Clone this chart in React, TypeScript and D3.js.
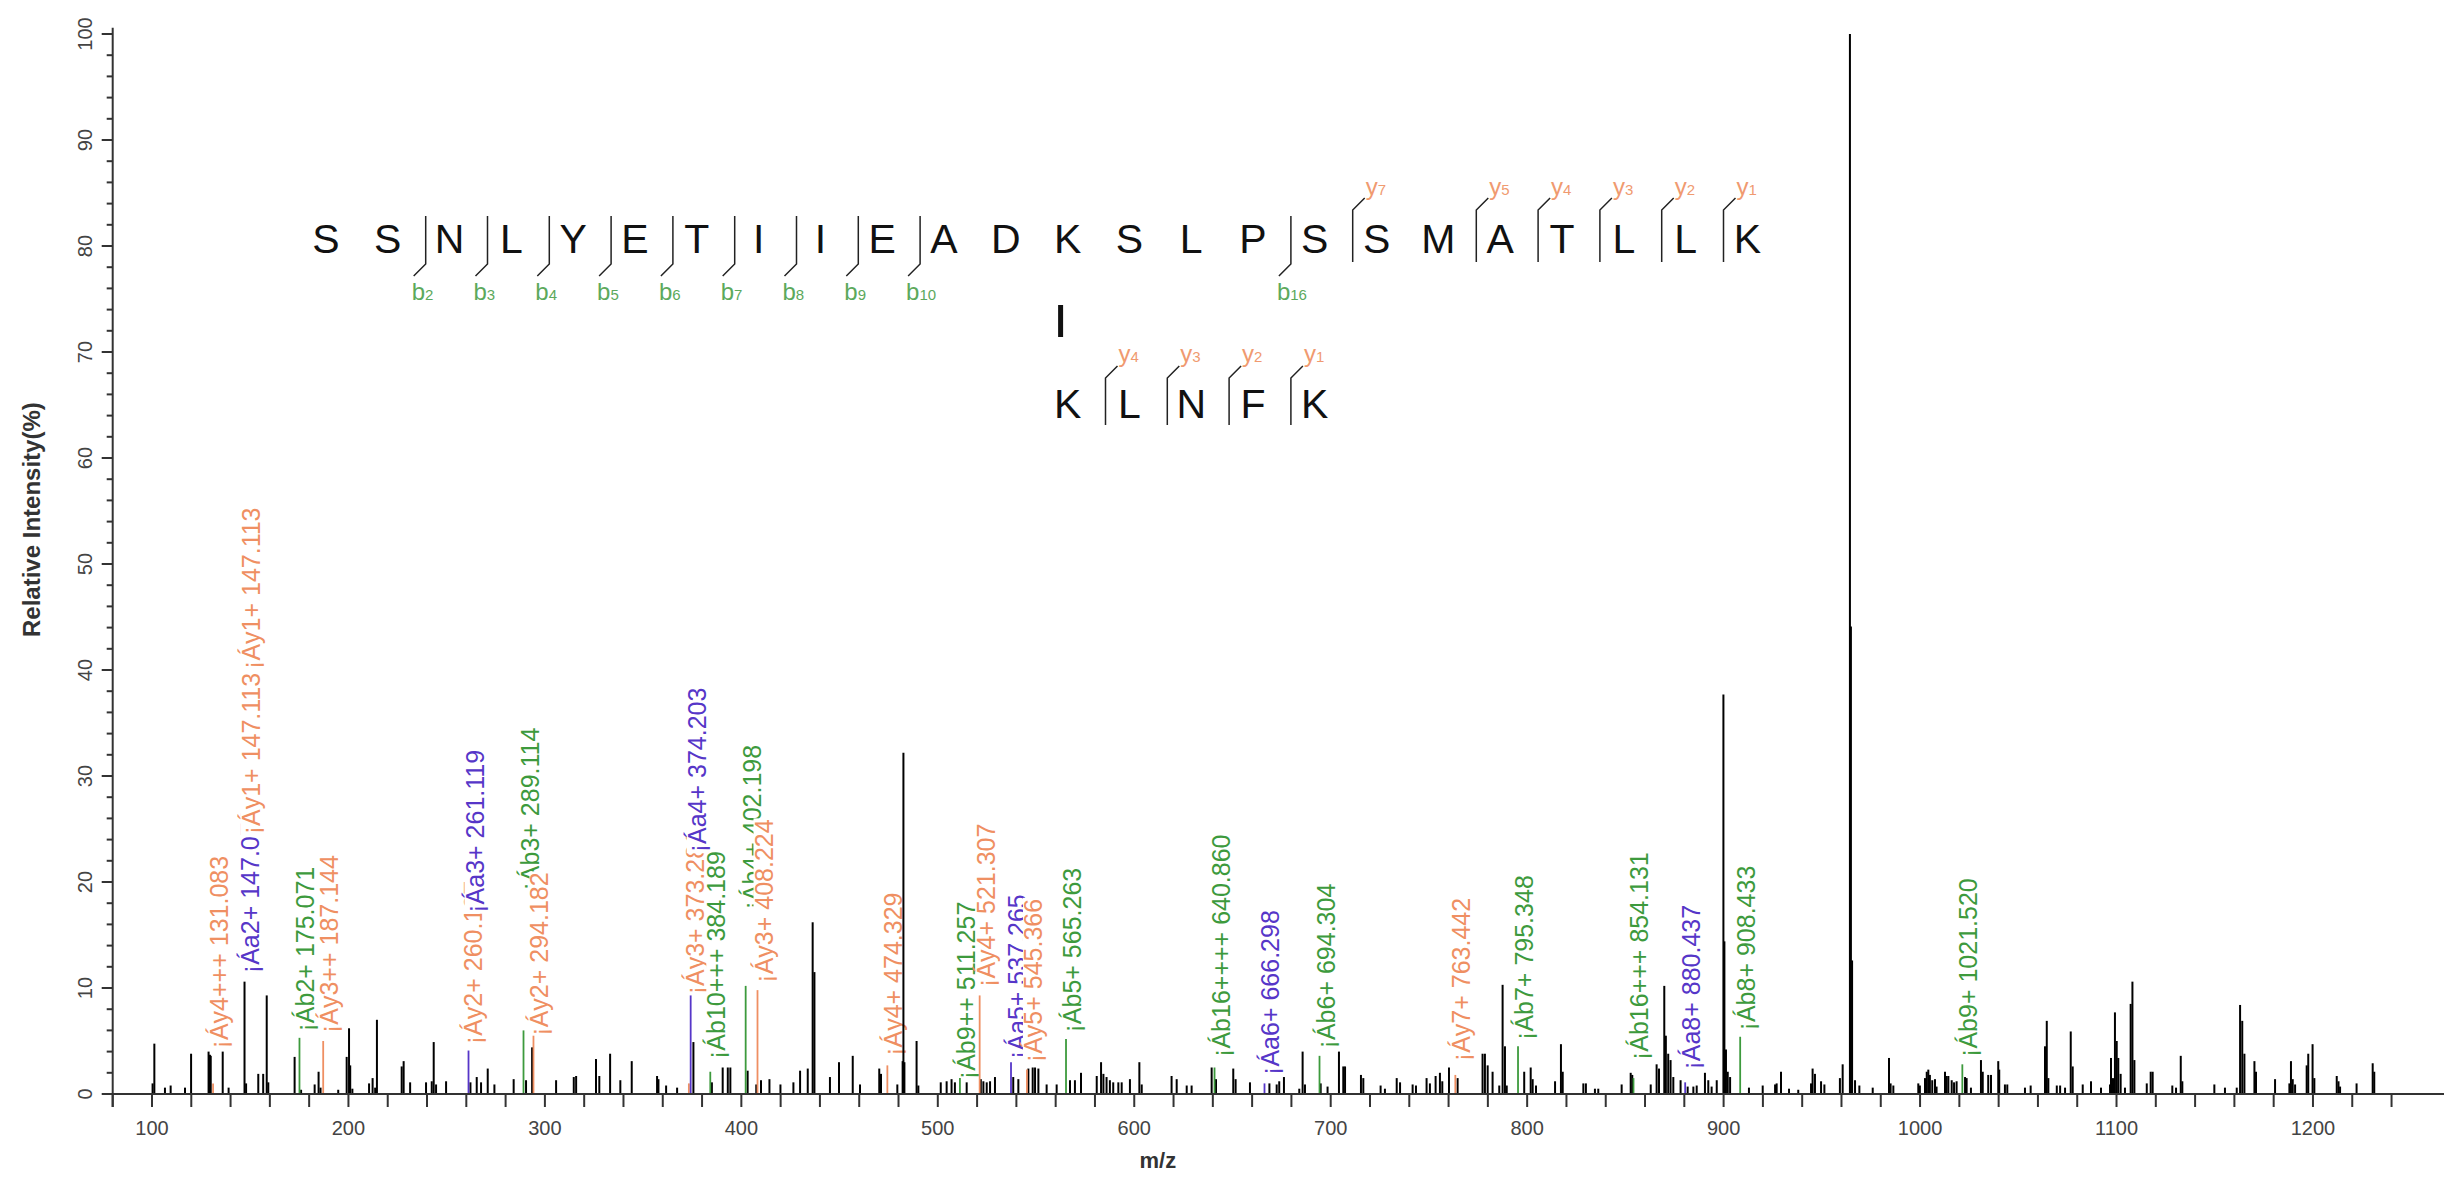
import React, { useMemo } from "react";
import * as d3 from "d3";

const W = 2444;
const H = 1185;

// ---- peptide sequences ----
const seqAlpha = "SSNLYETIIEADKSLPSSMATLLK".split("");
const seqBeta = "KLNFK".split("");
const bIons = [2, 3, 4, 5, 6, 7, 8, 9, 10, 16];
const yIonsAlpha = [7, 5, 4, 3, 2, 1];
const yIonsBeta = [4, 3, 2, 1];
const crossLinkSite = 12;

// ---- axis ----
const xDomain = [80, 1266.7];
const yDomain = [0, 100];
const xTickStep = 20;
const xLabelStep = 100;
const xTickMax = 1240;

// ---- unannotated peaks [m/z, relative intensity] ----
const peaks: [number, number][] = [
  [100.3, 1.0], [101.2, 4.75], [106.6, 0.6], [109.5, 0.8], [116.8, 0.6], [119.9, 3.8],
  [128.8, 4.0], [129.5, 3.7], [129.9, 3.6], [136.0, 4.0], [139.0, 0.6], [147.1, 10.6],
  [147.9, 1.0], [154.1, 1.9], [156.6, 1.9], [158.4, 9.3], [159.2, 1.1], [172.6, 3.5],
  [175.9, 0.4], [182.8, 0.9], [184.8, 2.1], [185.8, 0.6], [194.8, 0.4], [199.1, 3.5],
  [200.3, 6.2], [200.9, 2.7], [202.0, 0.5], [210.5, 1.0], [212.3, 1.5], [213.6, 0.6],
  [214.5, 7.0],
  [227.1, 2.6], [228.1, 3.1], [231.4, 1.1], [239.5, 1.1], [242.4, 1.2], [243.4, 4.9],
  [244.6, 0.9], [249.7, 1.2], [262.1, 1.1], [265.3, 1.6], [267.5, 1.1], [270.9, 2.4],
  [274.3, 0.9], [284.1, 1.4], [290.4, 1.3], [293.5, 4.4], [305.7, 1.3], [314.7, 1.6],
  [315.9, 1.7], [326.0, 3.3], [327.7, 1.7], [333.2, 3.8], [338.4, 1.3], [344.2, 3.1],
  [357.1, 1.7], [357.8, 1.4], [361.7, 0.8], [367.3, 0.6], [375.6, 4.9], [385.0, 1.1],
  [390.5, 2.5], [393.1, 2.5], [394.4, 2.5], [403.2, 2.2], [407.6, 0.9], [410.0, 1.3],
  [414.3, 1.4], [419.9, 0.9], [426.5, 1.1], [429.9, 2.2], [433.8, 2.4], [436.3, 16.2],
  [437.2, 11.5],
  [445.1, 1.6], [449.7, 3.0], [456.7, 3.6], [460.4, 0.9], [470.2, 2.4], [471.1, 1.9],
  [479.4, 0.9], [482.1, 3.1], [482.5, 32.2], [483.0, 3.0], [489.2, 5.0], [490.1, 0.8],
  [501.5, 1.1], [504.5, 1.2], [507.0, 1.4], [508.7, 1.1], [514.7, 1.1], [521.9, 1.4],
  [523.2, 1.2], [524.9, 1.1], [526.6, 1.2], [529.1, 1.6], [538.4, 1.6], [541.0, 1.4],
  [546.1, 2.4], [548.3, 2.5], [549.5, 2.5], [551.2, 2.4], [555.4, 0.9], [560.5, 0.9],
  [567.3, 1.3], [569.8, 1.3], [572.9, 2.0], [580.9, 1.7], [583.1, 3.0], [584.3, 1.9],
  [585.9, 1.6], [587.6, 1.3], [589.3, 1.1], [591.9, 1.1], [593.6, 1.1], [597.8, 1.4],
  [602.6, 3.0], [603.8, 0.9], [619.0, 1.7], [621.6, 1.4], [626.7, 0.8], [629.2, 0.8],
  [639.4, 2.5], [641.6, 1.4], [650.4, 2.4], [651.6, 1.4], [658.9, 1.1],
  [668.8, 1.0], [672.5, 0.9], [673.8, 1.2], [676.2, 1.6], [684.0, 0.5], [685.7, 4.0],
  [686.9, 0.9], [694.9, 1.0], [698.4, 0.7], [704.2, 4.0], [706.4, 2.6], [707.3, 2.6],
  [715.4, 1.8], [716.6, 1.5], [725.4, 0.8], [727.6, 0.5], [733.6, 1.5], [735.3, 1.1],
  [741.7, 0.9], [743.4, 0.8], [748.8, 1.5], [750.5, 1.0], [753.4, 1.7], [755.6, 2.0],
  [756.8, 1.2], [760.2, 2.5], [764.6, 1.5], [777.3, 3.8], [778.5, 3.8], [779.9, 2.7],
  [782.4, 2.1], [785.8, 0.8], [787.5, 10.3], [788.7, 4.5], [789.6, 0.8], [798.5, 2.1],
  [801.8, 2.5], [802.8, 1.4], [804.5, 0.8], [814.2, 1.2], [817.2, 4.7], [818.1, 2.1],
  [828.6, 1.0], [829.9, 1.0], [834.5, 0.5], [836.2, 0.5], [848.1, 0.9], [852.7, 2.0],
  [853.5, 1.8], [862.9, 0.9], [865.9, 2.8], [867.1, 2.4], [869.8, 10.2], [870.6, 5.5],
  [871.8, 3.8], [873.0, 3.2], [874.4, 1.6], [878.1, 1.3], [881.7, 0.7], [884.6, 0.7],
  [886.3, 0.8], [890.5, 2.0], [892.2, 1.3], [893.9, 0.7],
  [896.5, 1.3], [899.9, 37.7], [900.4, 14.4], [901.2, 4.2], [902.1, 2.1], [903.3, 1.6],
  [912.9, 0.6], [919.9, 0.8], [926.2, 0.9], [927.0, 1.0], [929.2, 2.1], [933.3, 0.5],
  [938.0, 0.4], [944.5, 1.0], [945.3, 2.4], [946.5, 1.9], [949.6, 1.2], [951.3, 0.9],
  [959.2, 1.5], [960.6, 2.8], [964.3, 100], [964.8, 44.1], [965.4, 12.6], [966.9, 1.3],
  [969.1, 0.8], [975.9, 0.6], [984.2, 3.4], [985.0, 1.0], [986.4, 0.8], [999.1, 1.0],
  [999.9, 0.8], [1002.5, 1.5], [1003.4, 2.1], [1004.2, 2.3], [1005.0, 1.8], [1006.2, 1.3],
  [1007.6, 1.4], [1008.4, 0.7], [1012.7, 2.1], [1013.5, 1.7], [1014.4, 1.7], [1016.1, 1.3],
  [1017.3, 1.1], [1018.6, 1.2], [1022.9, 1.6], [1023.7, 1.5], [1025.9, 0.6], [1031.0, 3.2],
  [1031.9, 2.1], [1034.7, 1.8], [1036.1, 1.8], [1039.8, 3.1], [1040.3, 2.3], [1043.2, 0.9],
  [1044.4, 0.9], [1053.4, 0.6], [1056.3, 0.8],
  [1063.6, 4.5], [1064.5, 6.9], [1065.3, 1.5], [1069.6, 0.8], [1071.3, 0.8], [1073.8, 0.6],
  [1076.7, 5.9], [1077.7, 2.6], [1082.8, 0.9], [1087.0, 1.2], [1092.1, 0.6], [1096.7, 0.9],
  [1097.2, 3.4], [1098.2, 1.5], [1099.2, 7.7], [1100.1, 5.0], [1100.9, 3.4], [1102.1, 1.9],
  [1104.3, 0.6], [1107.2, 8.5], [1108.1, 10.6], [1109.1, 3.2], [1115.4, 1.0], [1117.4, 2.1],
  [1118.4, 2.1], [1128.4, 0.8], [1130.3, 0.6], [1132.7, 3.6], [1133.5, 1.2], [1149.8, 0.9],
  [1155.2, 0.6], [1161.2, 0.6], [1162.9, 8.4], [1164.0, 6.9], [1165.1, 3.8], [1170.2, 3.1],
  [1171.0, 2.1], [1180.7, 1.4], [1188.0, 1.0], [1188.8, 3.1], [1189.7, 1.4], [1190.9, 0.9],
  [1196.8, 2.7], [1197.6, 3.8], [1199.8, 4.7], [1200.7, 1.5], [1212.1, 1.7], [1213.0, 1.2],
  [1213.8, 0.7], [1222.2, 1.0], [1230.4, 2.9], [1231.2, 2.1],
];

// ---- annotated (matched) peaks ----
const annMz = [131.083, 175.071, 187.144, 261.119, 289.114, 294.182, 373.281, 374.203, 384.189,
  402.198, 408.224, 474.329, 511.257, 521.307, 537.265, 545.366, 565.263, 640.86, 666.298,
  694.304, 763.442, 795.348, 854.131, 880.437, 908.433, 1021.52];
const annIntensity = [1.0, 5.3, 5.0, 4.1, 6.0, 5.5, 1.0, 9.3, 2.1, 10.2, 9.8, 2.7, 1.5, 9.3, 3.0,
  2.3, 5.2, 2.5, 1.0, 3.6, 1.8, 4.5, 1.5, 1.1, 5.4, 2.8];
const annType = ["y", "b", "y", "a", "b", "y", "y", "a", "b", "b", "y", "y", "b", "y", "a", "y",
  "b", "b", "a", "b", "y", "b", "b", "a", "b", "b"];

// ---- peak labels ----
const labelText = [
  "¡Áy4+++ 131.083", "¡Áa2+ 147.076", "¡Áy1+ 147.113", "¡Áy1+ 147.113", "¡Áb2+ 175.071",
  "¡Áy3++ 187.144", "¡Áy2+ 260.197", "¡Áa3+ 261.119", "¡Áb3+ 289.114", "¡Áy2+ 294.182",
  "¡Áy3+ 373.281", "¡Áa4+ 374.203", "¡Áb10+++ 384.189", "¡Áb4+ 402.198", "¡Áy3+ 408.224",
  "¡Áy4+ 474.329", "¡Áb9++ 511.257", "¡Áy4+ 521.307", "¡Áa5+ 537.265", "¡Áy5+ 545.366",
  "¡Áb5+ 565.263", "¡Áb16++++ 640.860", "¡Áa6+ 666.298", "¡Áb6+ 694.304", "¡Áy7+ 763.442",
  "¡Áb7+ 795.348", "¡Áb16+++ 854.131", "¡Áa8+ 880.437", "¡Áb8+ 908.433", "¡Áb9+ 1021.520",
];
const labelMz = [131.083, 147.076, 147.113, 147.113, 175.071, 187.144, 260.197, 261.119, 289.114,
  294.182, 373.281, 374.203, 384.189, 402.198, 408.224, 474.329, 511.257, 521.307, 537.265,
  545.366, 565.263, 640.86, 666.298, 694.304, 763.442, 795.348, 854.131, 880.437, 908.433, 1021.52];
const labelBase = [4.3, 11.4, 24.5, 40.1, 5.9, 5.75, 4.7, 17.1, 19.2, 5.5, 9.4, 22.8, 3.3, 17.4,
  10.5, 3.6, 1.4, 10.1, 3.3, 3.0, 5.8, 3.5, 1.8, 4.3, 3.1, 5.1, 3.2, 2.3, 6.0, 3.5];
const labelType = ["y", "a", "y", "y", "b", "y", "y", "a", "b", "y", "y", "a", "b", "b", "y", "y",
  "b", "y", "a", "y", "b", "b", "a", "b", "y", "b", "b", "a", "b", "b"];

const ionColor: Record<string, string> = { b: "#3d9a3d", y: "#ef8f62", a: "#5636c8" };
const seqBColor = "#5ca95c";
const seqYColor = "#f09a70";

const FONT = '"Liberation Sans", Arial, Helvetica, sans-serif';
const LABEL_FS = 25;

export default function App() {
  const x = d3.scaleLinear().domain(xDomain).range([112.7, W]);
  const y = d3.scaleLinear().domain(yDomain).range([1094, 34]);
  const seqX = d3.scaleLinear().domain([0, 23]).range([326, 326 + 23 * 61.8]);

  const widths = useMemo(() => {
    const ctx = document.createElement("canvas").getContext("2d")!;
    ctx.font = `${LABEL_FS}px ${FONT}`;
    return labelText.map((t) => ctx.measureText(t).width);
  }, []);

  const xTicks = d3.range(xDomain[0], xTickMax + 1, xTickStep);
  const xLabels = d3.range(100, 1201, xLabelStep);
  const yMinor = y.ticks(50);
  const yMajor = y.ticks(10);

  const axisColor = "#333";
  const tickLabelColor = "#444";

  const brk = (i: number) => seqX(i - 0.5) + 7;

  return (
    <div style={{ position: "absolute", left: 0, top: 0 }}>
      <svg width={W} height={H} style={{ display: "block", background: "#fff" }} fontFamily={FONT}>
        {/* peak labels (with white boxes, drawn in order) */}
        {labelText.map((t, i) => {
          const cx = x(labelMz[i]) + 6;
          const bx = cx + 0.36 * LABEL_FS;
          const by = y(labelBase[i]);
          return (
            <g key={"lab" + i} transform={`translate(${bx},${by}) rotate(-90)`}>
              <rect x={-1} y={-0.76 * LABEL_FS} width={widths[i] + 2} height={0.97 * LABEL_FS} fill="#fff" />
              <text x={0} y={0} fontSize={LABEL_FS} fill={ionColor[labelType[i]]}>{t}</text>
            </g>
          );
        })}

        {/* unannotated peaks */}
        {peaks.map(([mz, inten], i) => (
          <line key={"p" + i} x1={x(mz)} x2={x(mz)} y1={y(0)} y2={y(inten)} stroke="#000" strokeWidth={2} />
        ))}
        {/* annotated peaks */}
        {annMz.map((mz, i) => (
          <line key={"a" + i} x1={x(mz)} x2={x(mz)} y1={y(0)} y2={y(annIntensity[i])}
            stroke={ionColor[annType[i]]} strokeWidth={1.8} />
        ))}

        {/* x axis */}
        <line x1={x(xDomain[0])} x2={W} y1={y(0)} y2={y(0)} stroke={axisColor} strokeWidth={2} />
        {xTicks.map((t) => (
          <line key={"xt" + t} x1={x(t)} x2={x(t)} y1={y(0)} y2={y(0) + 13} stroke={axisColor} strokeWidth={2} />
        ))}
        {xLabels.map((t) => (
          <text key={"xl" + t} x={x(t)} y={1135} fontSize={20} textAnchor="middle" fill={tickLabelColor}>{t}</text>
        ))}
        <text x={x(612)} y={1168} fontSize={22} fontWeight="bold" textAnchor="middle" fill="#333">m/z</text>

        {/* y axis */}
        <line x1={x(xDomain[0])} x2={x(xDomain[0])} y1={y(0) + 13} y2={y(100.6)} stroke={axisColor} strokeWidth={2} />
        {yMinor.map((t) => (
          <line key={"ym" + t} x1={x(xDomain[0]) - 6} x2={x(xDomain[0])} y1={y(t)} y2={y(t)} stroke={axisColor} strokeWidth={2} />
        ))}
        {yMajor.map((t) => (
          <line key={"yM" + t} x1={x(xDomain[0]) - 11} x2={x(xDomain[0])} y1={y(t)} y2={y(t)} stroke={axisColor} strokeWidth={2} />
        ))}
        {yMajor.map((t) => (
          <text key={"yl" + t} transform={`translate(92,${y(t)}) rotate(-90)`} fontSize={20}
            textAnchor="middle" fill={tickLabelColor}>{t}</text>
        ))}
        <text transform={`translate(40,637) rotate(-90)`} fontSize={24} fontWeight="bold" fill="#333">
          Relative Intensity(%)
        </text>

        {/* peptide alpha */}
        {seqAlpha.map((c, i) => (
          <text key={"sa" + i} x={seqX(i)} y={253} fontSize={41} textAnchor="middle" fill="#111">{c}</text>
        ))}
        {bIons.map((n) => {
          const bx = brk(n);
          return (
            <g key={"b" + n}>
              <polyline points={`${bx},216 ${bx},264 ${bx - 12},276`} fill="none" stroke="#222" strokeWidth={1.5} />
              <text x={bx - 14} y={300} fill={seqBColor}>
                <tspan fontSize={24}>b</tspan>
                <tspan fontSize={15}>{n}</tspan>
              </text>
            </g>
          );
        })}
        {yIonsAlpha.map((n) => {
          const bx = brk(seqAlpha.length - n);
          return (
            <g key={"ya" + n}>
              <polyline points={`${bx},262 ${bx},210 ${bx + 12},198`} fill="none" stroke="#222" strokeWidth={1.5} />
              <text x={bx + 13} y={195} fill={seqYColor}>
                <tspan fontSize={24}>y</tspan>
                <tspan fontSize={15}>{n}</tspan>
              </text>
            </g>
          );
        })}

        {/* cross-link */}
        <line x1={seqX(crossLinkSite) - 7} x2={seqX(crossLinkSite) - 7} y1={305} y2={337} stroke="#111" strokeWidth={5} />

        {/* peptide beta */}
        {seqBeta.map((c, j) => (
          <text key={"sb" + j} x={seqX(crossLinkSite + j)} y={418} fontSize={41} textAnchor="middle" fill="#111">{c}</text>
        ))}
        {yIonsBeta.map((n) => {
          const bx = brk(crossLinkSite + seqBeta.length - n);
          return (
            <g key={"yb" + n}>
              <polyline points={`${bx},425 ${bx},378 ${bx + 12},366`} fill="none" stroke="#222" strokeWidth={1.5} />
              <text x={bx + 13} y={362} fill={seqYColor}>
                <tspan fontSize={24}>y</tspan>
                <tspan fontSize={15}>{n}</tspan>
              </text>
            </g>
          );
        })}
      </svg>
    </div>
  );
}
